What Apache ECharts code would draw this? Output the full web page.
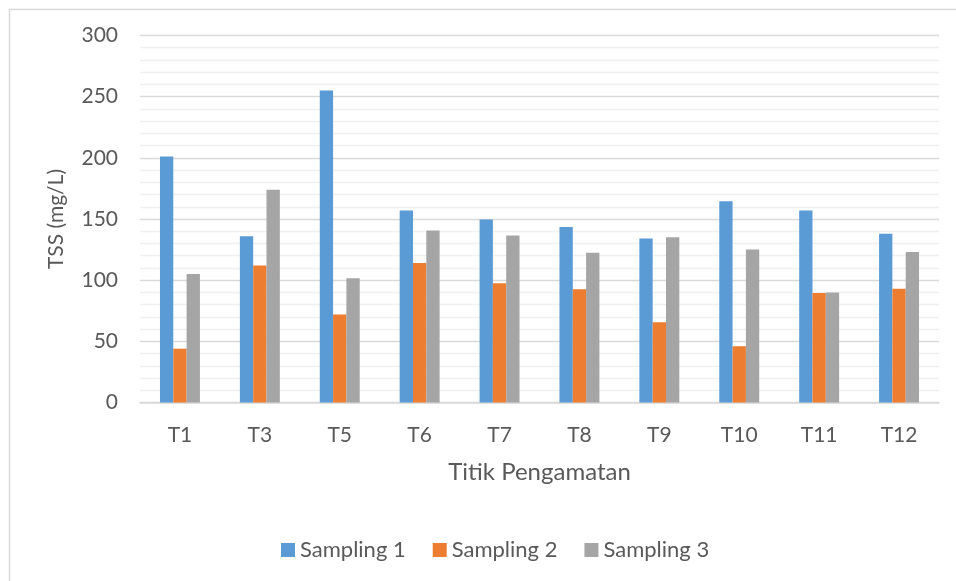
<!DOCTYPE html>
<html>
<head>
<meta charset="utf-8">
<script src="https://cdn.jsdelivr.net/npm/echarts@6/dist/echarts.min.js"></script>
<style>
  html, body { margin: 0; padding: 0; background: #fff; }
  #chart { width: 956px; height: 581px; }
</style>
</head>
<body>
<div id="chart"></div>
<script>
// Observation points and TSS readings (mg/L) for three sampling rounds
const categories = ['T1', 'T3', 'T5', 'T6', 'T7', 'T8', 'T9', 'T10', 'T11', 'T12'];
const sampling1 = [201, 136, 255, 157, 149.5, 143.5, 134, 164.5, 157, 138];
const sampling2 = [44, 112, 72, 114, 97.5, 92.5, 65.5, 46, 89.5, 93];
const sampling3 = [105, 174, 101.5, 140.5, 136.5, 122.5, 135, 125, 90, 123];
const seriesNames = ['Sampling 1', 'Sampling 2', 'Sampling 3'];
const colors = ['#5B9BD5', '#ED7D31', '#A5A5A5'];

const FONT = 'Lato';
const TEXT = '#595959';

const chart = echarts.init(document.getElementById('chart'), null, { renderer: 'canvas' });

const seriesData = [sampling1, sampling2, sampling3];

chart.setOption({
  animation: false,
  backgroundColor: '#ffffff',
  color: colors,
  textStyle: { fontFamily: FONT, color: TEXT },
  graphic: [{
    type: 'rect',
    left: 7, top: 7,
    shape: { width: 970, height: 600 },
    style: { fill: 'none', stroke: '#D9D9D9', lineWidth: 1.5 },
    silent: true,
    z: -1
  }],
  grid: { left: 140, right: 17, top: 35.5, bottom: 178.5, containLabel: false },
  legend: {
    data: seriesNames,
    left: 276,
    top: 534,
    itemWidth: 14,
    itemHeight: 14,
    itemGap: 27,
    icon: 'rect',
    textStyle: { fontFamily: FONT, fontSize: 22, color: TEXT }
  },
  xAxis: {
    type: 'category',
    data: categories,
    name: 'Titik Pengamatan',
    nameLocation: 'middle',
    nameGap: 58,
    nameTextStyle: { fontFamily: FONT, fontSize: 24, color: TEXT },
    axisLine: { show: true, lineStyle: { color: '#D9D9D9', width: 1.5 } },
    axisTick: { show: false },
    axisLabel: { fontFamily: FONT, fontSize: 21, color: TEXT, margin: 22 }
  },
  yAxis: {
    type: 'value',
    min: 0,
    max: 300,
    interval: 50,
    name: 'TSS (mg/L)',
    nameLocation: 'middle',
    nameGap: 73,
    nameRotate: 90,
    nameTextStyle: { fontFamily: FONT, fontSize: 21, color: TEXT },
    axisLine: { show: false },
    axisTick: { show: false },
    axisLabel: { fontFamily: FONT, fontSize: 21, color: TEXT, margin: 22 },
    splitLine: { show: true, lineStyle: { color: '#D9D9D9', width: 1.3 } },
    minorTick: { show: false, splitNumber: 5 },
    minorSplitLine: { show: true, lineStyle: { color: '#F0F0F0', width: 1.3 } }
  },
  series: seriesData.map((d, i) => ({
    name: seriesNames[i],
    type: 'bar',
    data: d,
    barGap: '0%',
    barCategoryGap: '50%',
    itemStyle: { color: colors[i] }
  }))
});
</script>
</body>
</html>
